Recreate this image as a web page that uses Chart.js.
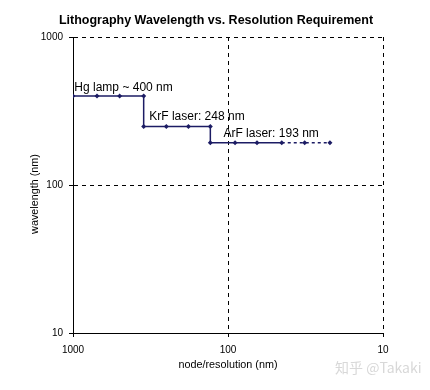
<!DOCTYPE html>
<html>
<head>
<meta charset="utf-8">
<script src="https://cdn.jsdelivr.net/npm/chart.js@4/dist/chart.umd.min.js"></script>
<style>
html,body{margin:0;padding:0;background:#fff;}
#wrap{position:relative;width:430px;height:390px;}
#wm{position:absolute;left:335px;top:357px;font:14px "Noto Sans CJK SC","Liberation Sans",sans-serif;color:#d8d8d8;}
</style>
</head>
<body>
<div id="wrap"><canvas id="c" width="430" height="390"></canvas><div id="wm">知乎 @Takaki</div></div>
<script>
// Data
const nodes =       [1000, 700, 500, 350, 350, 250, 180, 130, 130, 90, 65, 45, 32, 22];
const wavelengths = [400, 400, 400, 400, 248, 248, 248, 248, 193, 193, 193, 193, 193, 193];
const dashedFrom = 45; // segments beyond this node are dashed (projected)
const labelTexts = ["Hg lamp ~ 400 nm", "KrF laser: 248 nm", "ArF laser: 193 nm"];
const labelX =     [980, 322, 107];
const labelY =     [431, 275, 210];
const xTicks = [1000, 100, 10];
const yTicks = [10, 100, 1000];
const titleText = 'Lithography Wavelength vs. Resolution Requirement';

const lineColor = '#1c1c64';
const FONT = '"Liberation Sans", Arial, sans-serif';

const labelPlugin = {
  id: 'labels',
  afterDatasetsDraw(chart) {
    const {ctx, scales: {x, y}} = chart;
    ctx.save();
    ctx.font = '12px ' + FONT;
    ctx.fillStyle = '#000';
    ctx.textBaseline = 'alphabetic';
    ctx.textAlign = 'left';
    labelTexts.forEach((t, i) => {
      ctx.fillText(t, x.getPixelForValue(labelX[i]), y.getPixelForValue(labelY[i]));
    });
    ctx.restore();
  }
};

const titlePlugin = {
  id: 'ttl',
  afterDraw(chart) {
    const {ctx} = chart;
    ctx.save();
    ctx.font = 'bold 12.5px ' + FONT;
    ctx.fillStyle = '#000';
    ctx.textAlign = 'center';
    ctx.textBaseline = 'middle';
    ctx.fillText(titleText, 216, 21);
    ctx.restore();
  }
};

new Chart(document.getElementById('c'), {
  type: 'line',
  data: {
    datasets: [{
      data: nodes.map((n, i) => ({x: n, y: wavelengths[i]})),
      borderColor: lineColor,
      backgroundColor: lineColor,
      borderWidth: 1.5,
      pointStyle: 'rectRot',
      pointRadius: 2.5,
      pointBorderWidth: 0,
      tension: 0,
      segment: {
        borderDash: ctx => ctx.p0.parsed.x <= dashedFrom ? [3, 3] : undefined
      }
    }]
  },
  options: {
    responsive: false,
    animation: false,
    devicePixelRatio: 1,
    layout: {padding: {left: 0, right: 47, top: 37, bottom: 0}},
    plugins: {
      legend: {display: false},
      tooltip: {enabled: false},
      title: {display: false}
    },
    scales: {
      x: {
        type: 'logarithmic',
        reverse: true,
        min: 10, max: 1000,
        afterBuildTicks: s => { s.ticks = xTicks.map(v => ({value: v})); },
        afterFit: s => { s.height = 57; },
        ticks: {
          color: '#000', font: {family: FONT, size: 10}, padding: 7,
          maxRotation: 0, autoSkip: false,
          callback: v => String(v)
        },
        grid: {color: '#000', lineWidth: 1, tickLength: 4, tickBorderDash: []},
        border: {display: true, color: '#000', width: 1, dash: [4, 4]},
        title: {display: true, text: 'node/resolution (nm)', color: '#000', font: {family: FONT, size: 10.8}, padding: {top: 0, bottom: 18}}
      },
      y: {
        type: 'logarithmic',
        min: 10, max: 1000,
        afterBuildTicks: s => { s.ticks = yTicks.map(v => ({value: v})); },
        afterFit: s => { s.width = 73; },
        ticks: {
          color: '#000', font: {family: FONT, size: 10}, padding: 6,
          autoSkip: false,
          callback: v => String(v)
        },
        grid: {color: '#000', lineWidth: 1, tickLength: 4, tickBorderDash: []},
        border: {display: true, color: '#000', width: 1, dash: [4, 4]},
        title: {display: true, text: 'wavelength (nm)      ', color: '#000', font: {family: FONT, size: 10.8}, padding: {top: 29, bottom: 0}}
      }
    }
  },
  plugins: [labelPlugin, titlePlugin]
});
</script>
</body>
</html>
